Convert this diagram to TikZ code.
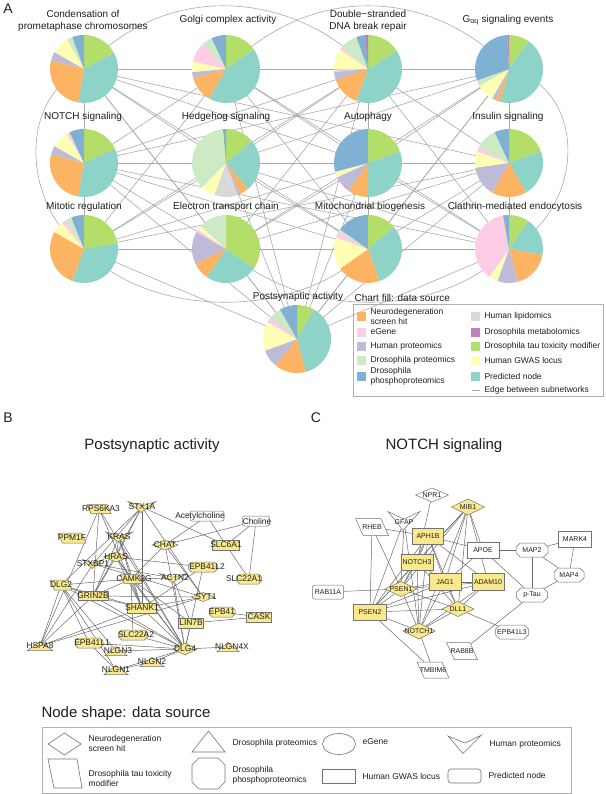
\documentclass[tikz,border=0pt]{standalone}
\usepackage{fontspec}
\setmainfont{Liberation Sans}
\usetikzlibrary{shapes.geometric}
\pgfdeclarelayer{bg}
\pgfsetlayers{bg,main}
\definecolor{cTau}{HTML}{B3DE69}
\definecolor{cPred}{HTML}{8DD3C7}
\definecolor{cNeu}{HTML}{FDB462}
\definecolor{cHP}{HTML}{BEBADA}
\definecolor{cLip}{HTML}{D9D9D9}
\definecolor{cGW}{HTML}{FFFFB3}
\definecolor{cEG}{HTML}{FCCDE5}
\definecolor{cDP}{HTML}{CCEBC5}
\definecolor{cPhP}{HTML}{80B1D3}
\definecolor{cMet}{HTML}{BC80BD}
\definecolor{gyel}{RGB}{250,233,140}
\definecolor{aedgec}{RGB}{170,170,170}
\definecolor{nedgec}{RGB}{105,105,105}
\definecolor{nbord}{RGB}{115,115,115}
\definecolor{legbord}{RGB}{175,175,175}
\definecolor{txt}{RGB}{30,30,30}

\newcommand{\drawpie}[2]{%
  \foreach \pa/\pb/\pc in {#2} {
    \fill[fill=\pc] (#1.center) -- ++(-90+\pa:34) arc[start angle=-90+\pa, end angle=-90+\pb, radius=34] -- cycle;
  }}
\newcommand{\shpdia}[3]{\path[gshape,fill=#2] (#1.north) -- (#1.east) -- (#1.south) -- (#1.west) -- cycle;}
\newcommand{\shptri}[3]{\path[gshape,fill=#2] (#1.south west) -- (#1.north) -- (#1.south east) -- cycle;}
\newcommand{\shprect}[3]{\path[gshape,fill=#2] (#1.south west) rectangle (#1.north east);}
\newcommand{\shprrect}[3]{\path[gshape,fill=#2,rounded corners=2pt] (#1.south west) rectangle (#1.north east);}
\newcommand{\shppara}[3]{\path[gshape,fill=#2] (#1.north west) -- ([xshift=-0.45*#3]#1.north east) -- (#1.south east) -- ([xshift=0.45*#3]#1.south west) -- cycle;}
\newcommand{\shpchev}[3]{\path[gshape,fill=#2] (#1.north west) -- ([yshift=-0.4*#3]#1.north) -- (#1.north east) -- ([xshift=-1pt]#1.south) -- cycle;}
\newcommand{\shpoct}[3]{\path[gshape,fill=#2] ([xshift=0.3*#3]#1.north west) -- ([xshift=-0.3*#3]#1.north east) -- ([yshift=-0.3*#3]#1.north east) -- ([yshift=0.3*#3]#1.south east) -- ([xshift=-0.3*#3]#1.south east) -- ([xshift=0.3*#3]#1.south west) -- ([yshift=0.3*#3]#1.south west) -- ([yshift=-0.3*#3]#1.north west) -- cycle;}
\newcommand{\gnode}[8]{%
  \node[minimum width=#5, minimum height=#6, inner sep=0pt, outer sep=0pt] (#3) at (#4) {};
  \csname shp#1\endcsname{#3}{#2}{#6}
  \node[#8] at (#3.center) {#7};
}

\begin{document}
\begin{tikzpicture}[x=1pt,y=-1pt,
  pienode/.style={circle, minimum size=68, inner sep=0pt},
  pietitle/.style={font=\fontsize{10}{12}\selectfont, align=center, text=txt},
  leg/.style={font=\fontsize{8.5}{10}\selectfont, anchor=west, align=left, text=txt},
  legtitle/.style={font=\fontsize{10}{12}\selectfont, anchor=west, text=txt},
  bigtitle/.style={font=\fontsize{15}{17}\selectfont, text=txt},
  panel/.style={font=\fontsize{14}{16}\selectfont, text=txt},
  aedge/.style={draw=aedgec, line width=0.6pt},
  nedge/.style={draw=nedgec, line width=0.5pt},
  gshape/.style={draw=nbord, line width=0.5pt},
  legbox/.style={draw=legbord, line width=0.7pt},
  legshape/.style={draw=nbord, line width=0.6pt},
  blab/.style={font=\fontsize{8.4}{9}\selectfont, text=txt, inner sep=0pt},
  clab/.style={font=\fontsize{7}{8}\selectfont, text=txt, inner sep=0pt}
]
\useasboundingbox (0,0) rectangle (605,794);

% ---------------- Panel A ----------------
\node[panel] at (8,9) {A};
\node[pienode] (c1) at (84,69) {};
\node[pienode] (c2) at (226,69) {};
\node[pienode] (c3) at (368,69) {};
\node[pienode] (c4) at (509,69) {};
\node[pienode] (n1) at (84,163) {};
\node[pienode] (n2) at (226,163) {};
\node[pienode] (n3) at (368,163) {};
\node[pienode] (n4) at (509,163) {};
\node[pienode] (m1) at (84,249) {};
\node[pienode] (m2) at (226,249) {};
\node[pienode] (m3) at (368,249) {};
\node[pienode] (m4) at (509,249) {};
\node[pienode] (ps) at (297,339) {};

\begin{pgfonlayer}{bg}
\foreach \u/\v in {c1/c2, c2/c3, c3/c4, n1/n2, n2/n3, n3/n4, m1/m2, m2/m3, m3/m4,
  c1/n1, n1/m1, c3/n3, c4/n4, n3/m3, n4/m4,
  c1/n2, c1/n3, c1/n4, c1/m2, c1/m3, c1/ps,
  c2/n1, c2/n3, c2/m1, c2/m3, c2/m4, c2/ps,
  c3/n1, c3/n2, c3/n4, c3/m1, c3/m2, c3/m4, c3/ps,
  c4/n1, c4/n2, c4/n3, c4/m2, c4/m3, c4/ps,
  n1/m2, n1/m3, n1/m4, n1/ps,
  n2/m1, n2/m3, n2/m4, n2/ps,
  n3/m1, n3/m2, n3/m4, n3/ps,
  n4/m1, n4/m2, n4/m3, n4/ps,
  m1/ps, m2/ps, m3/ps, m4/ps}
  \draw[aedge] (\u.center) -- (\v.center);
\draw[aedge] (c1.center) .. controls (170,-25) and (300,-5) .. (c3.center);
\draw[aedge] (c2.center) .. controls (320,-25) and (440,-5) .. (c4.center);
\draw[aedge] (c1.center) .. controls (15,100) and (25,210) .. (m1.center);
\draw[aedge] (c4.center) .. controls (590,90) and (585,210) .. (m4.center);
\draw[aedge] (m1.center) .. controls (150,320) and (300,320) .. (m3.center);
\draw[aedge] (m2.center) .. controls (300,320) and (440,320) .. (m4.center);
\end{pgfonlayer}

\drawpie{c1}{0/62/cTau, 62/190/cPred, 190/285/cNeu, 285/300/cHP, 300/330/cGW, 330/340/cDP, 340/360/cPhP}
\drawpie{c2}{0/55/cTau, 55/210/cPred, 210/255/cNeu, 255/265/cHP, 265/283/cGW, 283/318/cEG, 318/335/cDP, 335/360/cPhP}
\drawpie{c3}{0/58/cTau, 58/200/cPred, 200/252/cNeu, 252/265/cHP, 265/270/cLip, 270/305/cGW, 305/310/cEG, 310/340/cDP, 340/355/cPhP, 355/360/cMet}
\drawpie{c4}{0/35/cTau, 35/195/cPred, 195/203/cNeu, 203/210/cHP, 210/240/cGW, 240/250/cDP, 250/357/cPhP, 357/360/cMet}
\drawpie{n1}{0/65/cTau, 65/190/cPred, 190/285/cNeu, 285/300/cHP, 300/330/cGW, 330/335/cEG, 335/360/cPhP}
\drawpie{n2}{0/50/cTau, 50/140/cPred, 140/155/cNeu, 155/160/cHP, 160/200/cLip, 200/225/cGW, 225/355/cDP, 355/360/cPhP}
\drawpie{n3}{0/70/cTau, 70/180/cPred, 180/215/cNeu, 215/245/cHP, 245/255/cGW, 255/360/cPhP}
\drawpie{n4}{0/70/cTau, 70/150/cPred, 150/210/cNeu, 210/262/cHP, 262/290/cGW, 290/298/cEG, 298/335/cDP, 335/360/cPhP}
\drawpie{m1}{0/80/cTau, 80/200/cPred, 200/300/cNeu, 300/320/cGW, 320/328/cEG, 328/338/cDP, 338/360/cPhP}
\drawpie{m2}{0/125/cTau, 125/215/cPred, 215/245/cNeu, 245/300/cHP, 300/305/cEG, 305/312/cGW, 312/360/cDP}
\drawpie{m3}{0/50/cTau, 50/160/cPred, 160/235/cNeu, 235/290/cGW, 290/300/cEG, 300/305/cDP, 305/360/cPhP}
\drawpie{m4}{0/35/cTau, 35/100/cPred, 100/165/cNeu, 165/200/cHP, 200/215/cGW, 215/350/cEG, 350/360/cPhP}
\drawpie{ps}{0/30/cTau, 30/165/cPred, 165/220/cNeu, 220/250/cHP, 250/300/cGW, 300/310/cEG, 310/330/cDP, 330/360/cPhP}

\node[pietitle] at (83,21) {Condensation of\\prometaphase chromosomes};
\node[pietitle] at (228,20) {Golgi complex activity};
\node[pietitle] at (368,21) {Double−stranded\\DNA break repair};
\node[pietitle] at (508,20) {G\textsubscript{αq} signaling events};
\node[pietitle] at (83,117) {NOTCH signaling};
\node[pietitle] at (226,117) {Hedgehog signaling};
\node[pietitle] at (368,117) {Autophagy};
\node[pietitle] at (508,117) {Insulin signaling};
\node[pietitle] at (84,207) {Mitotic regulation};
\node[pietitle] at (226,207) {Electron transport chain};
\node[pietitle] at (370,207) {Mitochondrial biogenesis};
\node[pietitle] at (515,207) {Clathrin-mediated endocytosis};
\node[pietitle] at (298,297) {Postsynaptic activity};

% legend A
\node[legtitle] at (351,298) {Chart fill: data source};
\draw[legbox] (353,304) rectangle (603,396);
\foreach \col/\yy in {cNeu/316, cEG/332, cHP/346, cDP/360, cPhP/376}
  \fill[fill=\col] (357,\yy-4.5) rectangle ++(9,9);
\foreach \col/\yy in {cLip/316, cMet/332, cTau/346, cGW/360, cPred/376}
  \fill[fill=\col] (471,\yy-4.5) rectangle ++(9,9);
\node[leg] at (367,316) {Neurodegeneration\\screen hit};
\node[leg] at (367,332) {eGene};
\node[leg] at (367,346) {Human proteomics};
\node[leg] at (367,360) {Drosophila proteomics};
\node[leg] at (367,376) {Drosophila\\phosphoproteomics};
\node[leg] at (481,316) {Human lipidomics};
\node[leg] at (481,332) {Drosophila metabolomics};
\node[leg] at (481,346) {Drosophila tau toxicity modifier};
\node[leg] at (481,360) {Human GWAS locus};
\node[leg] at (481,376) {Predicted node};
\coordinate (le1) at (472,390);
\coordinate (le2) at (480,390);
\draw[aedge] (le1) -- (le2);
\node[leg] at (481,390) {Edge between subnetworks};

% ---------------- Panel B ----------------
\node[panel] at (8,418) {B};
\node[bigtitle] at (152,446) {Postsynaptic activity};

\gnode{para}{gyel}{bRPS}{99,509}{24}{9}{RPS6KA3}{blab,xshift=2pt}
\gnode{chev}{gyel}{bSTX}{142,507}{28}{11}{STX1A}{blab}
\gnode{rrect}{white}{bACh}{207,516}{34}{10}{Acetylcholine}{blab,xshift=-7pt}
\gnode{rrect}{white}{bCho}{256,521}{27}{10}{Choline}{blab,xshift=1pt}
\gnode{para}{gyel}{bPPM}{72,538}{28}{10}{PPM1F}{blab}
\gnode{chev}{gyel}{bKRAS}{119,537}{27}{10}{KRAS}{blab}
\gnode{dia}{gyel}{bCHAT}{165,545}{26}{10}{CHAT}{blab}
\gnode{rect}{gyel}{bSLC6}{226,545}{27}{10}{SLC6A1}{blab}
\gnode{dia}{gyel}{bHRAS}{116,557}{25}{10}{HRAS}{blab}
\gnode{chev}{gyel}{bSTXB}{93,564}{21}{9}{STXBP1}{blab}
\gnode{oct}{gyel}{bE2}{203,567}{29}{10}{EPB41L2}{blab,xshift=4pt}
\gnode{para}{gyel}{bCAM}{131,579}{22}{9}{CAMK2G}{blab,xshift=3pt}
\gnode{chev}{gyel}{bACT}{173,578}{27}{9}{ACTN2}{blab,xshift=2pt}
\gnode{oct}{gyel}{bS1}{249,579}{25}{10}{SLC22A1}{blab,xshift=-5pt}
\gnode{para}{gyel}{bDLG2}{61,585}{22}{10}{DLG2}{blab}
\gnode{rect}{gyel}{bGRIN}{93,596}{30}{9}{GRIN2B}{blab}
\gnode{dia}{gyel}{bSYT}{203,597}{23}{9}{SYT1}{blab,xshift=3pt}
\gnode{rect}{gyel}{bSHK}{142,608}{29}{10}{SHANK1}{blab}
\gnode{oct}{gyel}{bE41}{222,612}{26}{10}{EPB41}{blab}
\gnode{rect}{gyel}{bCASK}{259,617}{25}{10}{CASK}{blab}
\gnode{rect}{gyel}{bLIN}{191,623}{25}{10}{LIN7B}{blab}
\gnode{oct}{gyel}{bS2}{133,635}{29}{10}{SLC22A2}{blab,xshift=3pt}
\gnode{oct}{gyel}{bE1}{89,643}{28}{10}{EPB41L1}{blab,xshift=3pt}
\gnode{tri}{gyel}{bHSP}{40,646}{25}{9}{HSPA8}{blab}
\gnode{tri}{gyel}{bNL3}{116,651}{22}{9}{NLGN3}{blab,xshift=2pt}
\gnode{dia}{gyel}{bDLG4}{185,649}{24}{12}{DLG4}{blab}
\gnode{tri}{gyel}{bNL4}{228,647}{22}{9}{NLGN4X}{blab,xshift=4pt}
\gnode{tri}{gyel}{bNL2}{152,662}{24}{9}{NLGN2}{blab}
\gnode{tri}{gyel}{bNL1}{116,670}{24}{9}{NLGN1}{blab}

\begin{pgfonlayer}{bg}
\foreach \u/\v in {bRPS/bSHK, bRPS/bDLG4, bRPS/bHSP, bRPS/bGRIN,
  bSTX/bSLC6, bSTX/bSYT, bSTX/bSHK, bSTX/bSTXB, bSTX/bDLG2, bSTX/bGRIN, bSTX/bHRAS,
  bACh/bCHAT, bACh/bSLC6, bCho/bCHAT, bCho/bSLC6, bCho/bS1, bSLC6/bS1,
  bCHAT/bCAM, bCHAT/bDLG4, bCHAT/bSYT,
  bKRAS/bHRAS, bKRAS/bSHK, bKRAS/bDLG4, bKRAS/bGRIN, bKRAS/bCAM,
  bHRAS/bE2, bHRAS/bCAM, bHRAS/bGRIN, bHRAS/bSHK, bHRAS/bDLG4,
  bSTXB/bACT, bSTXB/bSYT, bSTXB/bHSP,
  bE2/bSHK, bE2/bDLG4,
  bCAM/bACT, bCAM/bGRIN, bCAM/bSHK, bCAM/bDLG4, bCAM/bLIN, bCAM/bDLG2, bCAM/bS2,
  bACT/bDLG4, bACT/bLIN,
  bDLG2/bGRIN, bDLG2/bHSP, bDLG2/bNL3, bDLG2/bDLG4, bDLG2/bSHK, bDLG2/bE1, bDLG2/bNL1,
  bGRIN/bDLG4, bGRIN/bSHK, bGRIN/bSYT, bGRIN/bHSP,
  bSYT/bSHK, bSYT/bHSP,
  bSHK/bDLG4, bSHK/bHSP,
  bE41/bCASK, bCASK/bLIN, bLIN/bDLG4,
  bS2/bDLG4, bE1/bDLG4,
  bDLG4/bNL1, bDLG4/bNL2, bDLG4/bNL3, bDLG4/bNL4, bNL1/bE1, bNL2/bNL1}
  \draw[nedge] (\u.center) -- (\v.center);
\end{pgfonlayer}

% ---------------- Panel C ----------------
\node[panel] at (316,418) {C};
\node[bigtitle] at (444,446) {NOTCH signaling};

\gnode{dia}{white}{cNPR}{432,495}{33}{14}{NPR1}{clab}
\gnode{dia}{gyel}{cMIB}{468,507}{33}{16}{MIB1}{clab}
\gnode{para}{white}{cRHEB}{372,527}{33}{17}{RHEB}{clab}
\gnode{chev}{white}{cGFAP}{404,521}{32}{19}{GFAP}{clab,yshift=-1pt}
\gnode{rect}{gyel}{cAPH}{428,536}{31}{16}{APH1B}{clab}
\gnode{rect}{white}{cAPOE}{483,550}{32}{16}{APOE}{clab}
\gnode{oct}{white}{cMAP2}{532,550}{32}{14}{MAP2}{clab}
\gnode{rect}{white}{cMARK}{575,539}{33}{16}{MARK4}{clab}
\gnode{rect}{gyel}{cN3}{417,562}{32}{16}{NOTCH3}{clab}
\gnode{oct}{white}{cMAP4}{569,575}{30}{14}{MAP4}{clab}
\gnode{rect}{gyel}{cJAG}{445,582}{32}{17}{JAG1}{clab}
\gnode{rect}{gyel}{cADAM}{488,582}{32}{17}{ADAM10}{clab}
\gnode{dia}{gyel}{cPS1}{401,589}{32}{15}{PSEN1}{clab}
\gnode{rrect}{white}{cRAB11}{328,592}{31}{14}{RAB11A}{clab}
\gnode{oct}{white}{cPTau}{532,595}{31}{14}{p-Tau}{clab}
\gnode{dia}{gyel}{cDLL}{458,609}{32}{15}{DLL1}{clab}
\gnode{rect}{gyel}{cPS2}{370,612}{33}{16}{PSEN2}{clab}
\gnode{dia}{gyel}{cN1}{419,631}{32}{16}{NOTCH1}{clab}
\gnode{oct}{white}{cE3}{512,632}{33}{14}{EPB41L3}{clab}
\gnode{para}{white}{cRAB8}{462,651}{31}{17}{RAB8B}{clab}
\gnode{para}{white}{cTMB}{433,670}{32}{16}{TMBIM6}{clab}

\begin{pgfonlayer}{bg}
\foreach \u/\v in {cNPR/cN3,
  cMIB/cJAG, cMIB/cDLL, cMIB/cN1, cMIB/cN3, cMIB/cAPOE, cMIB/cADAM, cMIB/cPS1, cMIB/cPS2,
  cRHEB/cAPH, cRHEB/cPS2, cRHEB/cPS1,
  cGFAP/cPS1, cGFAP/cPS2, cGFAP/cN1,
  cAPH/cAPOE, cAPH/cN3, cAPH/cJAG, cAPH/cDLL, cAPH/cADAM, cAPH/cPS1, cAPH/cN1, cAPH/cPS2,
  cAPOE/cMAP2, cAPOE/cPTau, cAPOE/cJAG,
  cMAP2/cMARK, cMAP2/cMAP4, cMAP2/cPTau, cMARK/cMAP4, cMAP4/cPTau,
  cPTau/cRAB8, cDLL/cE3, cRAB11/cPS1,
  cN3/cPS1, cN3/cJAG, cN3/cDLL, cN3/cN1, cN3/cPS2,
  cJAG/cADAM, cJAG/cPS1, cJAG/cDLL, cJAG/cN1, cJAG/cPS2,
  cADAM/cDLL, cADAM/cN1, cADAM/cPS1, cADAM/cPS2,
  cPS1/cPS2, cPS1/cN1, cPS1/cDLL,
  cPS2/cDLL, cPS2/cN1, cPS2/cTMB, cDLL/cN1, cN1/cTMB}
  \draw[nedge] (\u.center) -- (\v.center);
\end{pgfonlayer}

% ---------------- Node shape legend ----------------
\node[bigtitle, anchor=west] at (38,714) {Node shape: data source};
\draw[legbox] (42,727) rectangle (571,793);
\draw[legshape] (48,744) -- (64.5,733) -- (81,744) -- (64.5,755) -- cycle;
\draw[legshape] (192,752) -- (208.5,731) -- (225,752) -- cycle;
\draw[legshape] (339,744) ellipse [x radius=16.5, y radius=10.5];
\draw[legshape] (448,736) -- (465,743) -- (481.5,735) -- (463,753.5) -- cycle;
\draw[legshape] (48,759) -- (77,759) -- (82,788) -- (54,788) -- cycle;
\draw[legshape] (199,758) -- (218,758) -- (225,765) -- (225,782) -- (218,789) -- (199,789) -- (192,782) -- (192,765) -- cycle;
\draw[legshape] (322,769) rectangle (355,783);
\draw[legshape, rounded corners=3pt] (448,769) rectangle (481,783);
\node[leg] at (85,743) {Neurodegeneration\\screen hit};
\node[leg] at (229,743) {Drosophila proteomics};
\node[leg] at (359,742) {eGene};
\node[leg] at (486,744) {Human proteomics};
\node[leg] at (85,778) {Drosophila tau toxicity\\modifier};
\node[leg] at (229,775.5) {Drosophila\\phosphoproteomics};
\node[leg] at (359,776) {Human GWAS locus};
\node[leg] at (485,775) {Predicted node};
\end{tikzpicture}
\end{document}
